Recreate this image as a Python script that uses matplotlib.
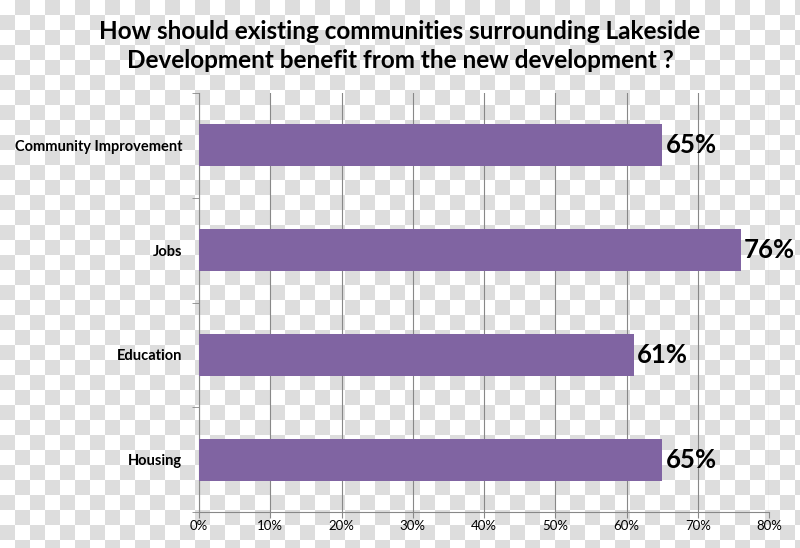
import numpy as np
import matplotlib
matplotlib.use('Agg')
import matplotlib.pyplot as plt
from matplotlib.ticker import FuncFormatter, FixedLocator

categories = ['Community Improvement', 'Jobs', 'Education', 'Housing']
values = [65, 76, 61, 65]
title = 'How should existing communities surrounding Lakeside\nDevelopment benefit from the new development ?'

plt.rcParams['font.family'] = ['Lato', 'DejaVu Sans']

fig = plt.figure(figsize=(8, 5.48), dpi=100)

# transparent-png style checkered backdrop
bg = fig.add_axes([0, 0, 1, 1], zorder=-10)
sq = 15
ny, nx = int(np.ceil(548 / sq)), int(np.ceil(800 / sq))
checker = 1.0 - (np.indices((ny, nx)).sum(axis=0) % 2) * 0.135
bg.imshow(checker, cmap='gray', vmin=0, vmax=1, extent=[0, nx * sq, ny * sq, 0],
          interpolation='nearest', aspect='auto')
bg.set_xlim(0, 800)
bg.set_ylim(548, 0)
bg.axis('off')

ax = fig.add_axes([199 / 800, 1 - 512 / 548, 570 / 800, 419 / 548])
ax.patch.set_alpha(0)
y = np.arange(len(categories))
ax.barh(y, values, height=0.4, color='#8064a2', zorder=3)
ax.set_xlim(0, 80)
ax.set_ylim(len(categories) - 0.5, -0.5)
ax.set_xticks(np.arange(0, 81, 10))
ax.xaxis.set_major_formatter(FuncFormatter(lambda v, p: f'{v:.0f}%'))
ax.set_yticks(y)
ax.set_yticklabels(categories, fontsize=10.5, fontweight='bold')
ax.yaxis.set_minor_locator(FixedLocator(np.arange(-0.5, len(categories), 1)))
ax.tick_params(axis='y', which='major', length=0, pad=12)
ax.tick_params(axis='y', which='minor', length=5, color='#888888')
ax.tick_params(axis='x', length=4, color='#888888', labelsize=9.5, pad=2)
ax.grid(axis='x', color='#888888', linewidth=0.8, zorder=0)
for s in ['top', 'right']:
    ax.spines[s].set_visible(False)
for s in ['left', 'bottom']:
    ax.spines[s].set_color('#888888')

for yi, v in zip(y, values):
    ax.text(v + 0.5, yi, f'{v}%', va='center', ha='left', fontsize=18.5, fontweight='bold', zorder=4)

fig.text(0.5, 1 - 46 / 548, title, ha='center', va='center', fontsize=17.5,
         fontweight='bold', linespacing=1.32)

fig.savefig('out.png', dpi=100)
